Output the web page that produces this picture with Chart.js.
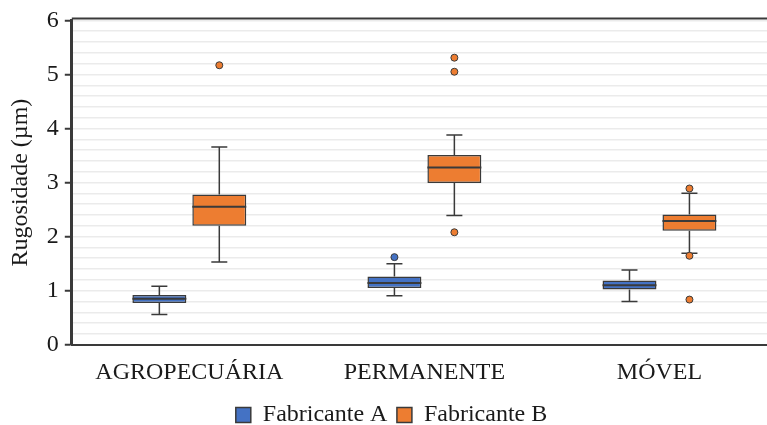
<!DOCTYPE html>
<html>
<head>
<meta charset="utf-8">
<script src="https://cdn.jsdelivr.net/npm/chart.js@4"></script>
<style>
    html, body { margin: 0; padding: 0; background: #fff; overflow: hidden; }
    #wrap { width: 767px; height: 425px; overflow: hidden; }
    #box { width: 777px; height: 441px; position: relative; }
</style>
</head>
<body>
<div id="wrap"><div id="box"><canvas id="chart"></canvas></div></div>
<script>
const categories = ['AGROPECUÁRIA', 'PERMANENTE', 'MÓVEL'];
const seriesNames = ['Fabricante A', 'Fabricante B'];

// Fabricante A
const aMin = [0.56, 0.905, 0.80];
const aQ1 = [0.77, 1.05, 1.02];
const aMed = [0.85, 1.14, 1.10];
const aQ3 = [0.92, 1.26, 1.19];
const aMax = [1.08, 1.50, 1.38];
const aOut = [[], [1.62], []];

// Fabricante B
const bMin = [1.53, 2.39, 1.69];
const bQ1 = [2.20, 2.99, 2.11];
const bMed = [2.55, 3.28, 2.29];
const bQ3 = [2.78, 3.51, 2.41];
const bMax = [3.66, 3.88, 2.80];
const bOut = [[5.17], [5.31, 5.05, 2.08], [2.89, 1.645, 0.835]];

const yTicks = [0, 1, 2, 3, 4, 5, 6];

const BLUE = '#4472C4';
const ORANGE = '#ED7D31';
const DARK = '#3a3a3a';
const FONT = "'Liberation Serif', 'Times New Roman', serif";

const stats = [
    { min: aMin, med: aMed, max: aMax, out: aOut, color: BLUE },
    { min: bMin, med: bMed, max: bMax, out: bOut, color: ORANGE }
];

// whiskers, medians, outliers and the top border
const boxPlugin = {
    id: 'boxExtras',
    afterDatasetsDraw(chart) {
        const ctx = chart.ctx;
        const y = chart.scales.y;
        ctx.save();
        stats.forEach((s, di) => {
            const meta = chart.getDatasetMeta(di);
            meta.data.forEach((bar, i) => {
                const x = bar.x;
                const half = bar.width / 2;
                const top = y.getPixelForValue(chart.data.datasets[di].data[i][1]);
                const bot = y.getPixelForValue(chart.data.datasets[di].data[i][0]);
                const yMax = y.getPixelForValue(s.max[i]);
                const yMin = y.getPixelForValue(s.min[i]);
                const cap = 8;
                ctx.strokeStyle = DARK;
                ctx.lineWidth = 1.5;
                ctx.beginPath();
                ctx.moveTo(x, top); ctx.lineTo(x, yMax);
                ctx.moveTo(x - cap, yMax); ctx.lineTo(x + cap, yMax);
                ctx.moveTo(x, bot); ctx.lineTo(x, yMin);
                ctx.moveTo(x - cap, yMin); ctx.lineTo(x + cap, yMin);
                ctx.stroke();
                const ym = y.getPixelForValue(s.med[i]);
                ctx.lineWidth = 2;
                ctx.beginPath();
                ctx.moveTo(x - half, ym); ctx.lineTo(x + half, ym);
                ctx.stroke();
                s.out[i].forEach(v => {
                    ctx.beginPath();
                    ctx.arc(x, y.getPixelForValue(v), 3.5, 0, Math.PI * 2);
                    ctx.fillStyle = s.color;
                    ctx.fill();
                    ctx.lineWidth = 1;
                    ctx.strokeStyle = DARK;
                    ctx.stroke();
                });
            });
        });
        const a = chart.chartArea;
        ctx.strokeStyle = DARK;
        ctx.lineWidth = 2;
        ctx.beginPath();
        ctx.moveTo(a.left, a.top - 2);
        ctx.lineTo(a.right, a.top - 2);
        ctx.stroke();
        ctx.restore();
    }
};

new Chart(document.getElementById('chart'), {
    type: 'bar',
    data: {
        labels: categories,
        datasets: [
            {
                label: seriesNames[0],
                data: aQ1.map((q, i) => [q, aQ3[i]]),
                backgroundColor: BLUE,
                borderColor: DARK,
                borderWidth: 1.5,
                borderSkipped: false
            },
            {
                label: seriesNames[1],
                data: bQ1.map((q, i) => [q, bQ3[i]]),
                backgroundColor: ORANGE,
                borderColor: DARK,
                borderWidth: 1.5,
                borderSkipped: false
            }
        ]
    },
    options: {
        responsive: true,
        maintainAspectRatio: false,
        animation: false,
        categoryPercentage: 0.51,
        barPercentage: 0.9,
        layout: { padding: { top: 10, right: 0, left: 6, bottom: 4 } },
        plugins: {
            tooltip: { enabled: false },
            legend: {
                position: 'bottom',
                labels: {
                    font: { family: FONT, size: 24 },
                    color: '#1a1a1a',
                    boxWidth: 15,
                    boxHeight: 15,
                    padding: 9.5
                }
            }
        },
        scales: {
            x: {
                grid: { display: false },
                border: { display: true, color: DARK, width: 2 },
                ticks: { font: { family: FONT, size: 24 }, color: '#1a1a1a', padding: 6 }
            },
            y: {
                min: 0,
                max: 6,
                afterBuildTicks(axis) {
                    const t = [];
                    for (let k = 0; k <= 30; k++) t.push({ value: k / 5 });
                    axis.ticks = t;
                },
                grid: {
                    color: '#ebebeb',
                    lineWidth: 1.5,
                    tickLength: 7,
                    tickColor: ctx => yTicks.includes(Math.round(ctx.tick.value * 1000) / 1000) ? DARK : 'rgba(0,0,0,0)',
                    tickWidth: 2
                },
                border: { display: true, color: DARK, width: 3 },
                ticks: {
                    font: { family: FONT, size: 24 },
                    color: '#1a1a1a',
                    padding: 6,
                    autoSkip: false,
                    callback: v => {
                        const r = Math.round(v * 1000) / 1000;
                        return yTicks.includes(r) ? String(r) : '';
                    }
                },
                title: {
                    display: true,
                    text: 'Rugosidade (µm)',
                    font: { family: FONT, size: 24 },
                    color: '#1a1a1a',
                    padding: { top: 0, bottom: 6 }
                }
            }
        }
    },
    plugins: [boxPlugin]
});
</script>
</body>
</html>
